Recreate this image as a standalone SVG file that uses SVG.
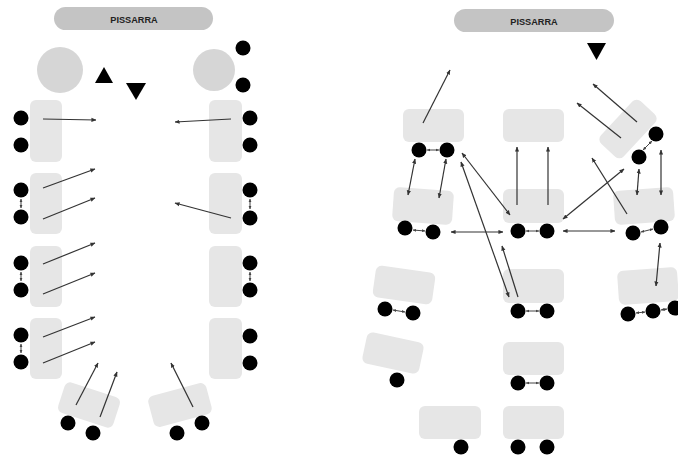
<svg xmlns="http://www.w3.org/2000/svg" width="678" height="457" viewBox="0 0 678 457">
<defs>
<style>
.bar{fill:#c4c4c4}
.lbl{font-family:"Liberation Sans",Arial,sans-serif;font-size:9.2px;font-weight:bold;fill:#222;text-anchor:middle}
.desk{fill:#e6e6e6}
.big{fill:#d6d6d6}
.st{fill:#000}
.tri{fill:#000}
.a{stroke:#333;stroke-width:1.2;fill:none;marker-end:url(#ah)}
.d{stroke:#333;stroke-width:1.2;fill:none;marker-end:url(#ah);marker-start:url(#ah)}
.m{stroke:#444;stroke-width:1;fill:none;marker-end:url(#sh);marker-start:url(#sh)}
</style>
<marker id="ah" viewBox="0 0 6 6" refX="5.5" refY="3" markerWidth="5" markerHeight="5" markerUnits="userSpaceOnUse" orient="auto-start-reverse"><path d="M0,0.5 L6,3 L0,5.5 z" fill="#333"/></marker>
<marker id="sh" viewBox="0 0 6 6" refX="5.5" refY="3" markerWidth="3.5" markerHeight="3.5" markerUnits="userSpaceOnUse" orient="auto-start-reverse"><path d="M0,0.5 L6,3 L0,5.5 z" fill="#444"/></marker>
</defs>
<rect width="678" height="457" fill="#fff"/>

<!-- LEFT CLASSROOM -->
<g id="board-left"><rect class="bar" x="54" y="7" width="159" height="23" rx="11.5"/><text class="lbl" x="134" y="23">PISSARRA</text></g>
<g id="round-table-l"><circle class="big" cx="60" cy="70" r="23"/></g>
<g id="round-table-r"><circle class="big" cx="214" cy="70" r="21"/><circle class="st" cx="243" cy="48" r="7.5"/><circle class="st" cx="243" cy="85" r="7.5"/></g>
<g id="teacher-up"><polygon class="tri" points="95,83 113,83 104,67"/></g>
<g id="teacher-down"><polygon class="tri" points="126,83 146,83 136,100"/></g>

<g id="L-desk1"><rect class="desk" x="30" y="100" width="32" height="62" rx="6"/><circle class="st" cx="21" cy="118" r="7.5"/><circle class="st" cx="21" cy="145" r="7.5"/></g>
<g id="L-desk2"><rect class="desk" x="30" y="173" width="32" height="61" rx="6"/><circle class="st" cx="21" cy="190" r="7.5"/><circle class="st" cx="21" cy="217" r="7.5"/></g>
<g id="L-desk3"><rect class="desk" x="30" y="246" width="32" height="61" rx="6"/><circle class="st" cx="21" cy="263" r="7.5"/><circle class="st" cx="21" cy="290" r="7.5"/></g>
<g id="L-desk4"><rect class="desk" x="30" y="318" width="32" height="61" rx="6"/><circle class="st" cx="21" cy="335" r="7.5"/><circle class="st" cx="21" cy="362" r="7.5"/></g>
<g id="R-desk1"><rect class="desk" x="209" y="100" width="33" height="62" rx="6"/><circle class="st" cx="250" cy="118" r="7.5"/><circle class="st" cx="250" cy="145" r="7.5"/></g>
<g id="R-desk2"><rect class="desk" x="209" y="173" width="33" height="61" rx="6"/><circle class="st" cx="250" cy="190" r="7.5"/><circle class="st" cx="250" cy="218" r="7.5"/></g>
<g id="R-desk3"><rect class="desk" x="209" y="246" width="33" height="61" rx="6"/><circle class="st" cx="250" cy="263" r="7.5"/><circle class="st" cx="250" cy="290" r="7.5"/></g>
<g id="R-desk4"><rect class="desk" x="209" y="318" width="33" height="61" rx="6"/><circle class="st" cx="250" cy="336" r="7.5"/><circle class="st" cx="250" cy="363" r="7.5"/></g>
<g id="B-desk-l"><rect class="desk" x="-29" y="-16" width="58" height="32" rx="6" transform="translate(89,405) rotate(18)"/><circle class="st" cx="68" cy="423" r="7.5"/><circle class="st" cx="93" cy="433" r="7.5"/></g>
<g id="B-desk-r"><rect class="desk" x="-30" y="-16" width="60" height="32" rx="6" transform="translate(180,405) rotate(-15)"/><circle class="st" cx="177" cy="433" r="7.5"/><circle class="st" cx="202" cy="423" r="7.5"/></g>

<!-- RIGHT CLASSROOM -->
<g id="board-right"><rect class="bar" x="454" y="9" width="160" height="23" rx="11.5"/><text class="lbl" x="534" y="25">PISSARRA</text></g>
<g id="teacher-right"><polygon class="tri" points="587,43 606,43 596.5,60"/></g>

<g id="desk-A"><rect class="desk" x="403" y="109" width="61" height="33" rx="6"/><circle class="st" cx="419" cy="150" r="7.5"/><circle class="st" cx="447" cy="150" r="7.5"/></g>
<g id="desk-B"><rect class="desk" x="503" y="109" width="61" height="33" rx="6"/></g>
<g id="desk-E"><rect class="desk" x="-29" y="-15.5" width="58" height="31" rx="6" transform="translate(628,129) rotate(-47)"/><circle class="st" cx="656" cy="134" r="7.5"/><circle class="st" cx="639" cy="157" r="7.5"/></g>
<g id="desk-C"><rect class="desk" x="-30" y="-17" width="60" height="34" rx="6" transform="translate(423,206) rotate(4)"/><circle class="st" cx="405" cy="228" r="7.5"/><circle class="st" cx="433" cy="232" r="7.5"/></g>
<g id="desk-D"><rect class="desk" x="503" y="189" width="61" height="34" rx="6"/><circle class="st" cx="518" cy="231" r="7.5"/><circle class="st" cx="547" cy="231" r="7.5"/></g>
<g id="desk-F"><rect class="desk" x="-30" y="-17" width="60" height="34" rx="6" transform="translate(644,206) rotate(-4)"/><circle class="st" cx="633" cy="233" r="7.5"/><circle class="st" cx="661" cy="227" r="7.5"/></g>
<g id="desk-H"><rect class="desk" x="-30" y="-16" width="60" height="32" rx="6" transform="translate(404,285) rotate(8)"/><circle class="st" cx="385" cy="309" r="7.5"/><circle class="st" cx="413" cy="313" r="7.5"/></g>
<g id="desk-I"><rect class="desk" x="503" y="269" width="61" height="34" rx="6"/><circle class="st" cx="518" cy="311" r="7.5"/><circle class="st" cx="547" cy="311" r="7.5"/></g>
<g id="desk-G"><rect class="desk" x="-30" y="-17" width="60" height="34" rx="6" transform="translate(648,286) rotate(-4)"/><circle class="st" cx="628" cy="314" r="7.5"/><circle class="st" cx="653" cy="311" r="7.5"/><circle class="st" cx="675" cy="308" r="7.5"/></g>
<g id="desk-J"><rect class="desk" x="-29" y="-16" width="58" height="32" rx="6" transform="translate(393,353) rotate(12)"/><circle class="st" cx="397" cy="380" r="7.5"/></g>
<g id="desk-K"><rect class="desk" x="503" y="342" width="61" height="33" rx="6"/><circle class="st" cx="518" cy="383" r="7.5"/><circle class="st" cx="547" cy="383" r="7.5"/></g>
<g id="desk-L"><rect class="desk" x="419" y="406" width="62" height="33" rx="6"/><circle class="st" cx="461" cy="447" r="7.5"/></g>
<g id="desk-M"><rect class="desk" x="503" y="406" width="61" height="33" rx="6"/><circle class="st" cx="518" cy="447" r="7.5"/><circle class="st" cx="547" cy="447" r="7.5"/></g>

<g id="connectors">
<!-- left room -->
<line class="a" x1="43" y1="119" x2="96" y2="120"/>
<line class="a" x1="231" y1="119" x2="175" y2="122"/>
<line class="a" x1="43" y1="188" x2="95" y2="169"/>
<line class="a" x1="43" y1="219" x2="95" y2="198"/>
<line class="a" x1="231" y1="218" x2="175" y2="203"/>
<line class="a" x1="43" y1="264" x2="95" y2="243"/>
<line class="a" x1="43" y1="294" x2="95" y2="273"/>
<line class="a" x1="43" y1="337" x2="95" y2="317"/>
<line class="a" x1="43" y1="363" x2="95" y2="342"/>
<line class="a" x1="76" y1="405" x2="98" y2="363"/>
<line class="a" x1="100" y1="417" x2="117" y2="372"/>
<line class="a" x1="193" y1="407" x2="171" y2="363"/>
<line class="m" x1="21" y1="199" x2="21" y2="208"/>
<line class="m" x1="21" y1="272" x2="21" y2="281"/>
<line class="m" x1="21" y1="344" x2="21" y2="353"/>
<line class="m" x1="250" y1="199" x2="250" y2="209"/>
<line class="m" x1="250" y1="272" x2="250" y2="281"/>
<!-- right room -->
<line class="a" x1="423" y1="123" x2="450" y2="70"/>
<line class="m" x1="427" y1="150" x2="439" y2="150"/>
<line class="d" x1="415" y1="159" x2="408" y2="195"/>
<line class="d" x1="446" y1="159" x2="439" y2="198"/>
<line class="m" x1="413" y1="230" x2="425" y2="231"/>
<line class="d" x1="451" y1="232" x2="503" y2="232"/>
<line class="d" x1="462" y1="153" x2="510" y2="215"/>
<line class="d" x1="461" y1="162" x2="509" y2="297"/>
<line class="a" x1="518" y1="297" x2="502" y2="246"/>
<line class="a" x1="517" y1="205" x2="517" y2="147"/>
<line class="a" x1="548" y1="205" x2="548" y2="147"/>
<line class="m" x1="526" y1="231" x2="539" y2="231"/>
<line class="d" x1="563" y1="219" x2="624" y2="169"/>
<line class="d" x1="563" y1="231" x2="615" y2="231"/>
<line class="a" x1="637" y1="122" x2="593" y2="84"/>
<line class="a" x1="621" y1="138" x2="577" y2="103"/>
<line class="m" x1="643" y1="150" x2="652" y2="141"/>
<line class="d" x1="639" y1="169" x2="637" y2="195"/>
<line class="d" x1="661" y1="150" x2="661" y2="195"/>
<line class="a" x1="627" y1="214" x2="592" y2="158"/>
<line class="m" x1="641" y1="232" x2="653" y2="229"/>
<line class="d" x1="660" y1="243" x2="656" y2="286"/>
<line class="m" x1="636" y1="313" x2="645" y2="312"/>
<line class="m" x1="661" y1="310" x2="667" y2="309"/>
<line class="m" x1="393" y1="310" x2="405" y2="312"/>
<line class="m" x1="526" y1="311" x2="539" y2="311"/>
<line class="m" x1="526" y1="383" x2="539" y2="383"/>
</g>
</svg>
